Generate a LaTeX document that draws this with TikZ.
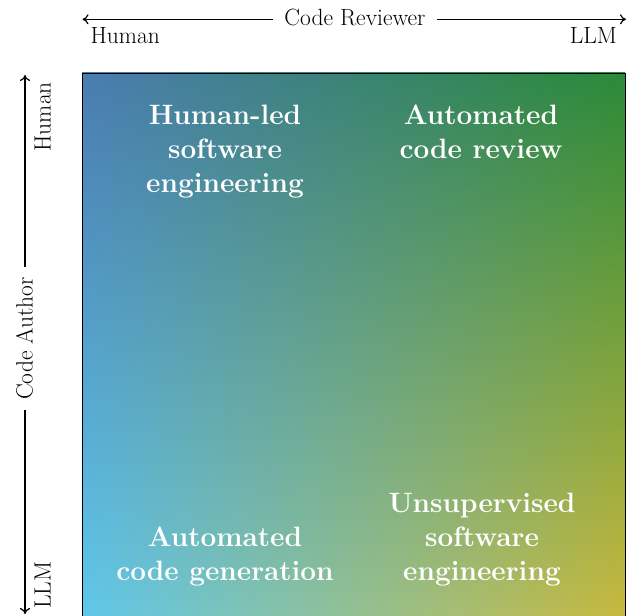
\documentclass[tikz,border=0pt]{standalone}
\usetikzlibrary{arrows.meta}
% bilinear four-corner shading (TL blue, TR green, BL light blue, BR yellow)
\pgfdeclarefunctionalshading{quadgrad}{\pgfpointorigin}{\pgfpoint{100bp}{100bp}}{}{
  25 sub 50 div exch 25 sub 50 div exch
  2 copy mul
  2 index 0.411 mul 2 index -0.083 mul add 1 index -0.536 mul add 0.373 add
  3 index -0.059 mul 3 index -0.298 mul add 2 index 0.114 mul add 0.784 add
  4 index -0.675 mul 4 index -0.228 mul add 3 index 0.205 mul add 0.918 add
  6 3 roll pop pop pop
}
\tikzset{
  axislabel/.style={font=\fontsize{23.5}{28}\selectfont, inner sep=0pt},
  quadlabel/.style={font=\fontsize{28}{34}\selectfont\bfseries, text=white, align=center, inner sep=0pt},
  axisarrow/.style={line width=1.2pt, -{To[length=6pt,width=10pt]}},
}
\begin{document}
\begin{tikzpicture}[x=1pt,y=-1pt]
\useasboundingbox (0,0) rectangle (628,615);
% gradient square
\coordinate (sqTL) at (82,73);
\coordinate (sqBR) at (625,617);
\shade[shading=quadgrad] (sqTL) rectangle (sqBR);
\draw[line width=0.8pt] (sqTL) rectangle (sqBR);
% quadrant labels
\node[quadlabel, anchor=north] (hl) at (225,104.6) {Human-led\\software\\engineering};
\node[quadlabel, anchor=north] (acr) at (481,104.6) {Automated\\code review};
\node[quadlabel, anchor=south] (acg) at (225,586.4) {Automated\\code generation};
\node[quadlabel, anchor=south] (use) at (482,586.4) {Unsupervised\\software\\engineering};
% top axis
\node[axislabel, inner xsep=11pt] (cr) at (355,17.3) {Code Reviewer};
\coordinate (xl) at (82.5,19.3);
\coordinate (xr) at (626,19.3);
\draw[axisarrow] (cr.west |- xl) -- (xl);
\draw[axisarrow] (cr.east |- xr) -- (xr);
\node[axislabel, anchor=base west] (xh) at (90.5,44) {Human};
\node[axislabel, anchor=base east] (xm) at (617,44) {LLM};
% left axis
\node[axislabel, rotate=90, inner xsep=10pt] (ca) at (24.5,338.5) {Code Author};
\coordinate (yt) at (25,75);
\coordinate (yb) at (25,614);
\draw[axisarrow] (ca.east -| yt) -- (yt);
\draw[axisarrow] (ca.west -| yb) -- (yb);
\node[axislabel, rotate=90, anchor=base east] (yh) at (50.5,82) {Human};
\node[axislabel, rotate=90, anchor=base west] (yl) at (50.5,609) {LLM};
\end{tikzpicture}
\end{document}
